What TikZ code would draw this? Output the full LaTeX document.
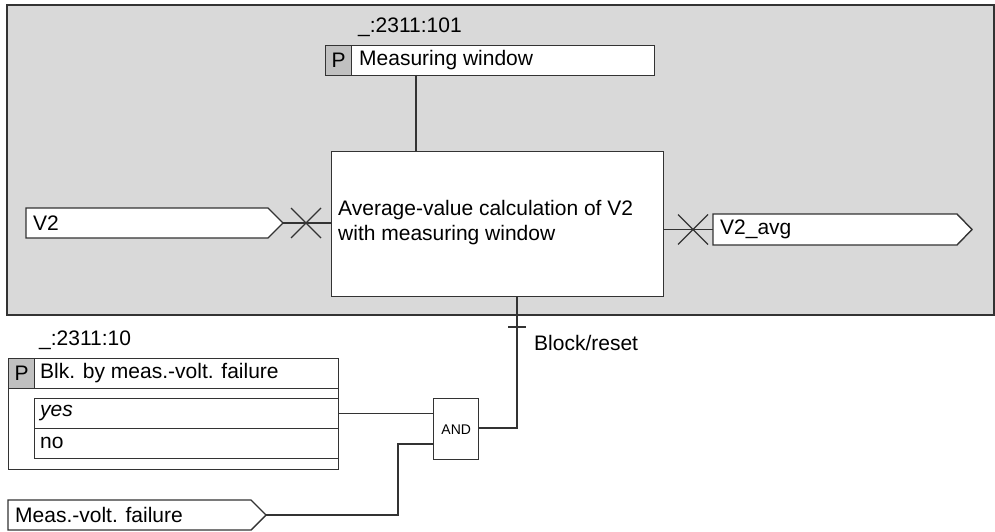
\documentclass[tikz,border=0pt]{standalone}
\usepackage{fontspec}
\setmainfont{Liberation Sans}
\usetikzlibrary{calc}
\definecolor{bggray}{HTML}{D9D9D9}
\definecolor{pgray}{HTML}{C0C0C0}
\definecolor{ln}{HTML}{333333}
\tikzset{
  box/.style={draw=ln, fill=white, line width=1.4pt, inner sep=0pt, anchor=north west},
  pcell/.style={box, fill=pgray, minimum width=26pt, minimum height=30pt, font=\fontsize{21}{25}\selectfont},
  txt/.style={anchor=west, inner sep=0pt, font=\fontsize{21}{25}\selectfont, text=black},
  wire/.style={draw=ln, line width=1.4pt},
  cross/.style={draw=ln, line width=1.2pt},
}
\begin{document}
\begin{tikzpicture}[x=1pt,y=-1pt]
\useasboundingbox (0,0) rectangle (995,532);
% gray background
\path[fill=bggray, draw=ln, line width=1.4pt] (7,5) rectangle (994,315);

% parameter: measuring window
\node[txt] (lbl1) at (358,27) {\_:2311:101};
\node[pcell] (p1) at (325,45) {P};
\node[box, minimum width=303pt, minimum height=30pt] (mw) at (351,45) {};
\node[txt] at (359,60) {Measuring window};

% main calc block
\node[box, minimum width=332pt, minimum height=145pt] (calc) at (331,151) {};
\node[txt, align=left] (calctxt) at (338,223) {Average-value calculation of V2\\with measuring window};

\coordinate (mwc) at (416,75);
\draw[wire] (mwc) -- (mwc |- calc.north);

% V2 input
\coordinate (v2tip) at (283,223);
\path[wire, fill=white] (26,208) -- (268,208) -- (v2tip) -- (268,238) -- (26,238) -- cycle;
\node[txt] (v2) at (33,223) {V2};
\draw[wire] (v2tip) -- (v2tip -| calc.west);
\coordinate (x1) at (306,223);
\draw[cross] ($(x1)+(-15,-15)$) -- ($(x1)+(15,15)$) ($(x1)+(-15,15)$) -- ($(x1)+(15,-15)$);

% V2_avg output
\coordinate (outl) at (713,229.5);
\path[wire, fill=white] (713,214) -- (957,214) -- (972,229.5) -- (957,245) -- (713,245) -- cycle;
\node[txt] (v2avg) at (720,229.5) {V2\_avg};
\draw[wire] (outl -| calc.east) -- (outl);
\coordinate (x2) at (693,229.5);
\draw[cross] ($(x2)+(-15,-15)$) -- ($(x2)+(15,15)$) ($(x2)+(-15,15)$) -- ($(x2)+(15,-15)$);

% parameter: blocking
\node[txt] (lbl2) at (39,340) {\_:2311:10};
\node[box, minimum width=330pt, minimum height=111pt] (blk) at (8,358) {};
\node[pcell] (p2) at (8,358) {P};
\node[box, minimum width=304pt, minimum height=30pt] (blkt) at (34,358) {};
\node[txt] at (40,373) {Blk. by meas.-volt. failure};
\node[box, minimum width=304pt, minimum height=30pt] (yes) at (34,398) {};
\node[box, minimum width=304pt, minimum height=30pt] (no) at (34,428) {};
\node[txt] at (40,413) {\itshape yes};
\node[txt] at (40,443) {no};

% AND gate
\node[box, minimum width=45pt, minimum height=61pt, font=\fontsize{14}{16}\selectfont] (and) at (433,398) {AND};
\coordinate (and2) at (433,444);
\coordinate (ando) at (478,428);
\draw[wire] (yes.east) -- (yes.east -| and.west);

% Meas.-volt. failure input
\coordinate (mtip) at (266,515);
\path[wire, fill=white] (8,500) -- (251,500) -- (mtip) -- (251,530) -- (8,530) -- cycle;
\node[txt] (mvf) at (15,515) {Meas.-volt. failure};
\draw[wire] (mtip) -- (398,515) -- (398,444) -- (and2);

% block/reset
\coordinate (br) at (517,296);
\draw[wire] (ando) -- (517,428) -- (br);
\draw[cross] (508,327) -- (526,327);
\node[txt] (brl) at (534,343) {Block/reset};
\end{tikzpicture}
\end{document}
